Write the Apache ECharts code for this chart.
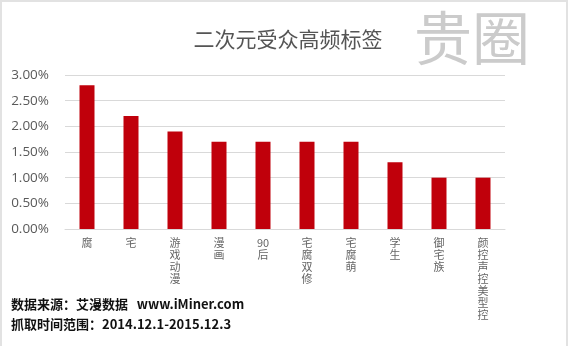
<!DOCTYPE html>
<html><head><meta charset="utf-8">
<script src="https://cdn.jsdelivr.net/npm/echarts@6/dist/echarts.min.js"></script>
<style>html,body{margin:0;padding:0;background:#fff}#c{width:570px;height:346px}</style>
</head><body><div id="c"></div>
<script>
var categories = ['腐','宅','游戏动漫','漫画','90后','宅腐双修','宅腐萌','学生','御宅族','颜控声控美型控'];
var values = [2.8, 2.2, 1.9, 1.7, 1.7, 1.7, 1.7, 1.3, 1.0, 1.0];
var yTicks = [0, 0.5, 1, 1.5, 2, 2.5, 3];
var title = '二次元受众高频标签';
var source1 = '数据来源：艾漫数据   www.iMiner.com';
var source2 = '抓取时间范围：2014.12.1-2015.12.3';

function verticalLabel(s){
  var parts = s.match(/[0-9]+|./g);
  return parts.join('\n');
}
var chart = echarts.init(document.getElementById('c'));
chart.setOption({
  backgroundColor:'#fff',
  animation:false,
  title:{text:title,left:283,top:24,textAlign:'center',
    textStyle:{fontFamily:'Noto Sans CJK SC',fontSize:21,fontWeight:'normal',color:'#555'}},
  grid:{left:65,right:65,top:75,bottom:117},
  xAxis:{type:'category',data:categories,
    axisLine:{lineStyle:{color:'#d9d9d9'}},axisTick:{show:false},
    axisLabel:{interval:0,margin:8,color:'#666',fontSize:11,lineHeight:12,
      fontFamily:'Noto Sans CJK SC',verticalAlign:'top',formatter:verticalLabel}},
  yAxis:{type:'value',min:0,max:3,interval:0.5,
    axisLine:{show:false},axisTick:{show:false},
    splitLine:{lineStyle:{color:'#d9d9d9'}},
    axisLabel:{margin:16,color:'#595959',fontSize:13.5,fontFamily:'Open Sans',
      formatter:function(v){return v.toFixed(2)+'%';}}},
  series:[{type:'bar',data:values,barWidth:15,itemStyle:{color:'#c0000b'}}],
  graphic:[
    {type:'rect',shape:{x:1,y:1,width:566,height:350},style:{fill:'none',stroke:'#e2e2e2',lineWidth:2},silent:true},
    {type:'text',left:414,top:9,style:{text:'贵圈',fontSize:58,fontFamily:'Noto Sans CJK SC',fill:'#cbcbcb',fontWeight:'normal'}},
    {type:'text',left:11,top:298,style:{text:source1,fontSize:13,fontWeight:'bold',fontFamily:'Noto Sans CJK SC',fill:'#111'}},
    {type:'text',left:11,top:318,style:{text:source2,fontSize:13,fontWeight:'bold',fontFamily:'Noto Sans CJK SC',fill:'#111'}}
  ]
});
</script></body></html>
